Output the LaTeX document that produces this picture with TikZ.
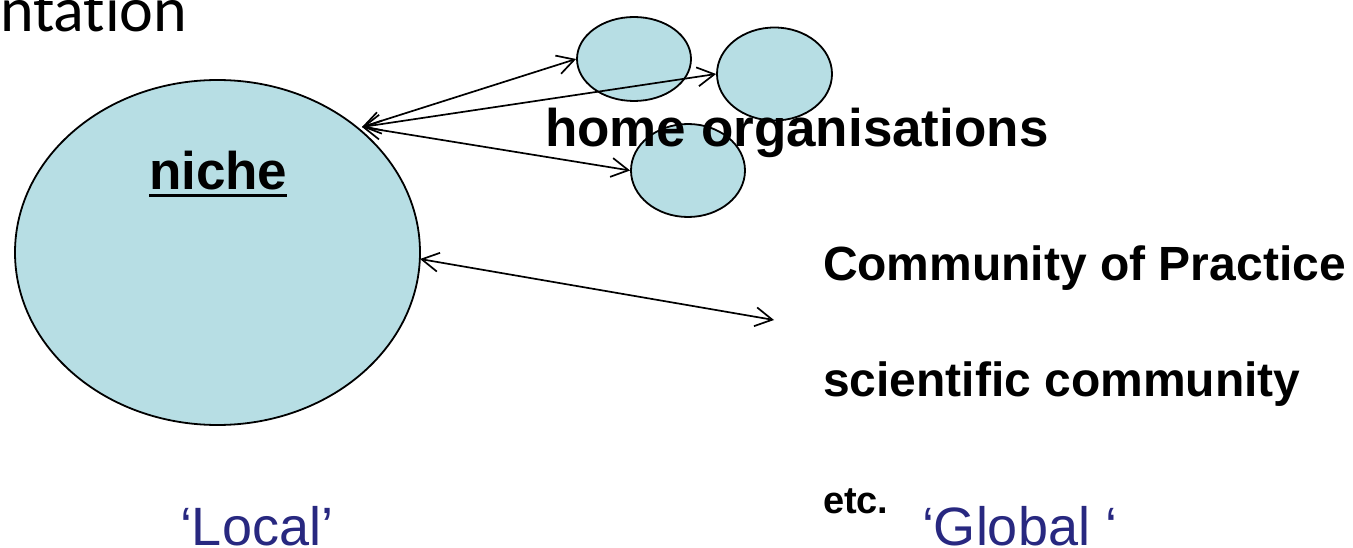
\documentclass[tikz,border=0pt]{standalone}
\usepackage{fontspec}
\setmainfont{Liberation Sans}
\newfontfamily\calibfont[Ligatures=NoCommon]{Carlito}
\usetikzlibrary{shapes.geometric,arrows.meta}
\definecolor{nichefill}{RGB}{183,222,228}
\definecolor{labelblue}{RGB}{40,40,128}
\tikzset{
  blob/.style={ellipse, draw=black, line width=1.8pt, fill=nichefill, inner sep=0pt},
  link/.style={line width=1.7pt, {Straight Barb[length=17pt,width=19pt]}-{Straight Barb[length=17pt,width=19pt]}},
  txt/.style={anchor=base west, inner sep=0pt, outer sep=0pt},
  bigbold/.style={txt, font=\fontsize{53}{60}\selectfont\bfseries},
  midbold/.style={txt, font=\fontsize{48}{56}\selectfont\bfseries},
  scale label/.style={txt, text=labelblue, font=\fontsize{54}{60}\selectfont}
}
\begin{document}
\begin{tikzpicture}[x=1pt,y=-1pt]
\useasboundingbox (0,0) rectangle (1353,548);
% title fragment
\node[txt, font=\fontsize{64}{70}\selectfont\calibfont] (title) at (0,32) {ntation};
% niche circle
\node[blob, minimum width=405pt, minimum height=345pt] (niche) at (217.5,252.5) {};
% home organisations
\node[blob, minimum width=114pt, minimum height=84pt] (s1) at (634,59) {};
\node[blob, minimum width=115pt, minimum height=93pt] (s2) at (774.5,74) {};
\node[blob, minimum width=114pt, minimum height=93pt] (s3) at (688,170.5) {};
\coordinate (nA) at (362,127);
\coordinate (gEnd) at (774,320);
\coordinate (nB) at (420,259);
\draw[link] (nA) -- (s1.west);
\draw[link] (nA) -- (s2.west);
\draw[link] (nA) -- (s3.west);
\draw[link] (nB) -- (gEnd);
% texts
\node[bigbold] (nichetxt) at (149,190) {niche};
\draw[line width=2.6pt] ([yshift=-5.5pt]nichetxt.base west) -- ([yshift=-5.5pt]nichetxt.base east);
\node[bigbold] (home) at (545,147) {home organisations};
\node[midbold] (cop) at (823,281) {Community of Practice};
\node[midbold] (sci) at (823,396) {scientific community};
\node[txt, font=\fontsize{38}{44}\selectfont\bfseries] (etc) at (823,513) {etc.};
\node[scale label] (local) at (180,545) {‘Local’};
\node[scale label] (global) at (922,545) {‘Global ‘};
\end{tikzpicture}
\end{document}
